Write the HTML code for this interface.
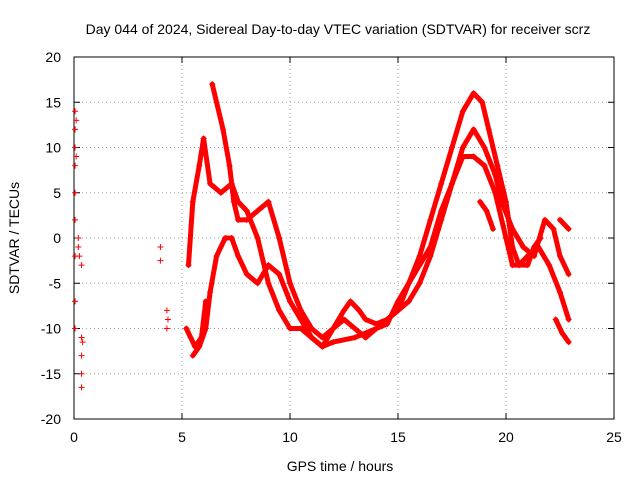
<!DOCTYPE html>
<html><head><meta charset="utf-8"><style>
body{margin:0;background:#fff;}
svg text{font-family:"Liberation Sans",sans-serif;font-size:14px;fill:#000;}
</style></head><body>
<svg id="chart" width="640" height="480" xmlns="http://www.w3.org/2000/svg"></svg>
<script>
const xTicks=[0,5,10,15,20,25];
const yTicks=[-20,-15,-10,-5,0,5,10,15,20];
const scatterTimes=[0.05,0.05,0.05,0.05,0.05,0.05,0.05,0.05,0.05,0.1,0.1,0.2,0.2,0.25,0.35,0.35,0.35,0.35,0.35,0.4,4.0,4.0,4.3,4.3,4.35];
const scatterValues=[14,12,10,8,5,2,-2,-7,-10,13,9,0,-1,-2,-11,-13,-15,-16.5,-3,-11.5,-1,-2.5,-8,-10,-9];
const trace1T=[5.5,5.8,6.1,6.3,6.6,7,7.3,7.6,8,8.5,9,9.5,10,10.5,11,11.5,12,13,14,15,15.5,16,16.5,17,17.5,18,18.5,19,19.5,20,20.3,20.6,21,21.5,22,22.5,22.9];
const trace1V=[-13,-12,-10,-6,-2,0,0,-2,-4,-5,-3,-4,-7,-9,-11,-12,-11.5,-11,-10,-8,-7,-5,-2,2,6,9,9,8,5,0,-3,-3,-2,-1,-3,-6,-9];
const trace2T=[5.3,5.5,5.8,6.0,6.3,6.8,7.3,7.6,8,8.5,9,9.5,10,10.5,11,11.5,12,12.5,12.8,13.2,13.5,14,14.5,15,15.5,16,16.5,17,17.5,18,18.5,19,19.5,19.8,20.3,20.8,21.3,21.8,22.2,22.5,22.9];
const trace2V=[-3,4,8,11,6,5,6,4,3,0,-5,-8,-10,-10,-11,-12,-10,-8,-7,-8,-9,-9.5,-9,-8,-5,-3,-1,3,6,10,12,10,7,4,1,-1,-2,2,1,-2,-4];
const trace3T=[6.4,6.6,6.9,7.2,7.4,7.6,8,8.5,9,9.5,10,10.5,11,11.5,12,12.5,13,13.5,14,14.5,15,15.5,16,16.5,17,17.5,18,18.5,18.9,19.2,19.6,20,20.3,20.6,21,21.3,21.6];
const trace3V=[17,15,12,8,4,2,2,3,4,0,-5,-8,-10,-11,-10,-9,-10,-11,-10,-9.5,-7,-5,-2,2,6,10,14,16,15,12,8,4,-1,-3,-3,-1,0];
const trace4T=[5.2,5.4,5.6,5.9,6.1];
const trace4V=[-10,-11,-12,-11,-7];
const trace5T=[22.5,22.9];
const trace5V=[2,1];
const trace6T=[22.3,22.6,22.9];
const trace6V=[-9,-10.5,-11.5];
const trace7T=[18.8,19.1,19.4];
const trace7V=[4,3,1];

const L=74,R=614,T=57,B=419;
const xs=v=>L+(v-0)/25*(R-L);
const ys=v=>B-(v+20)/40*(B-T);
const svg=document.getElementById('chart');
const NS='http://www.w3.org/2000/svg';
function mk(tag,attrs){const e=document.createElementNS(NS,tag);for(const k in attrs)e.setAttribute(k,attrs[k]);svg.appendChild(e);return e;}

xTicks.forEach(t=>{
  if(t>0&&t<25){const g=mk('line',{x1:xs(t),x2:xs(t),y1:T,y2:B,stroke:'#a0a0a0','stroke-dasharray':'1,3'});
  
  }
  const tk=mk('line',{x1:xs(t),x2:xs(t),y1:B,y2:B-6,stroke:'#000'});
  
  
  mk('line',{x1:xs(t),x2:xs(t),y1:T,y2:T+6,stroke:'#000'});
  const tx=mk('text',{x:xs(t),y:B+23,'text-anchor':'middle'});tx.textContent=t;
  
  
});
yTicks.forEach(t=>{
  if(t>-20&&t<20){const g=mk('line',{x1:L,x2:R,y1:ys(t),y2:ys(t),stroke:'#a0a0a0','stroke-dasharray':'1,3'});
  
  }
  const tk=mk('line',{x1:L,x2:L+6,y1:ys(t),y2:ys(t),stroke:'#000'});
  
  
  mk('line',{x1:R,x2:R-6,y1:ys(t),y2:ys(t),stroke:'#000'});
  const tx=mk('text',{x:L-13,y:ys(t)+5,'text-anchor':'end'});tx.textContent=t;
  
  
});
const frame=mk('rect',{x:L,y:T,width:R-L,height:B-T,fill:'none',stroke:'#000'});



function plus(x,y){mk('path',{d:`M${x-3},${y}H${x+3}M${x},${y-3}V${y+3}`,stroke:'#f00','stroke-width':1});}
[[trace1T,trace1V],[trace2T,trace2V],[trace3T,trace3V],[trace4T,trace4V],[trace5T,trace5V],[trace6T,trace6V],[trace7T,trace7V]].forEach(([tt,vv],i)=>{
  const pts=tt.map((t,j)=>xs(t)+','+ys(vv[j])).join(' ');
  const pl=mk('polyline',{points:pts,fill:'none',stroke:'#f00','stroke-width':5,'stroke-linejoin':'round','stroke-linecap':'round'});
  
  
  tt.forEach((t,j)=>plus(xs(t),ys(vv[j])));
});
scatterTimes.forEach((t,j)=>{
  const p=mk('path',{d:`M${xs(t)-3},${ys(scatterValues[j])}H${xs(t)+3}M${xs(t)},${ys(scatterValues[j])-3}V${ys(scatterValues[j])+3}`,stroke:'#f00','stroke-width':1});
  
  
});

let t=mk('text',{x:338,y:34,'text-anchor':'middle'});t.textContent='Day 044 of 2024, Sidereal Day-to-day VTEC variation (SDTVAR) for receiver scrz';


t=mk('text',{x:340,y:471,'text-anchor':'middle'});t.textContent='GPS time / hours';


t=mk('text',{x:19,y:238,'text-anchor':'middle',transform:'rotate(-90 19 238)'});t.textContent='SDTVAR / TECUs';


</script>
</body></html>
